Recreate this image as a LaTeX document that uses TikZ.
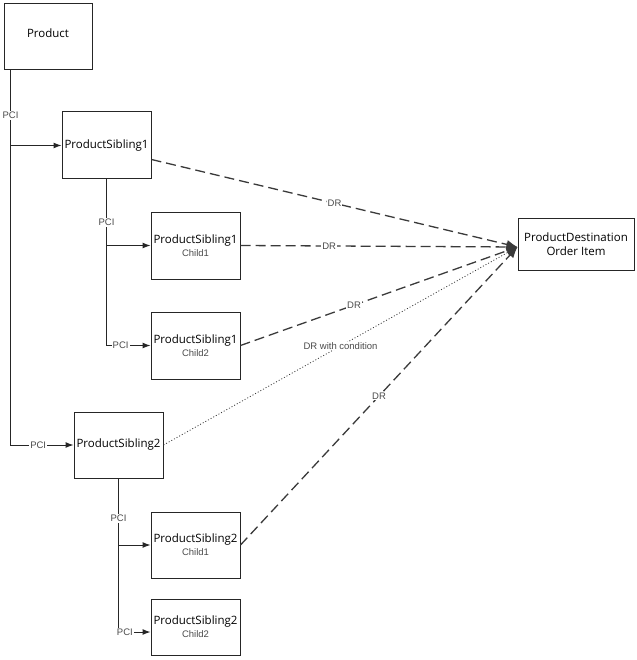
\documentclass[tikz,border=0pt]{standalone}
\usepackage{fontspec}
\setmainfont{Open Sans}
\newfontfamily\labelfont{Liberation Sans}
\usetikzlibrary{arrows.meta}
\definecolor{LinkGray}{HTML}{3A3A3A}
\definecolor{LabelGray}{HTML}{4A4A4A}
\tikzset{
  entity/.style={
    draw=black!85,
    line width=1pt,
    minimum width=89pt,
    minimum height=67pt,
    inner sep=0pt,
    align=center,
    font=\fontsize{11.5}{13}\selectfont
  },
  pci/.style={-{Latex[length=8pt,width=6pt]},draw=black!85,line width=1pt},
  dr/.style={-{Latex[length=11pt,width=9pt]},draw=LinkGray,line width=1.3pt,dash pattern=on 10pt off 5pt},
  drcond/.style={dr,line width=0.8pt,dash pattern=on 1pt off 2pt},
  linklabel/.style={
    fill=white,
    inner sep=1pt,
    text=LabelGray,
    font=\labelfont\fontsize{9.5}{11}\selectfont
  }
}
\newcommand{\childtext}[1]{\\{\labelfont\fontsize{9.5}{11}\selectfont\color{LabelGray}#1}}

\begin{document}
\begin{tikzpicture}[x=1pt,y=-1pt]
  \useasboundingbox (0,0) rectangle (636,660);

  \node[entity,minimum width=88pt,minimum height=66pt,text depth=8pt] (prod) at (48,37) {Product};
  \node[entity] (sib1) at (106.5,145.5) {ProductSibling1};
  \node[entity] (s1c1) at (195.5,245.5) {ProductSibling1\childtext{Child1}};
  \node[entity] (s1c2) at (195.5,345.5) {ProductSibling1\childtext{Child2}};
  \node[entity,minimum height=66pt] (sib2) at (118.5,445) {ProductSibling2};
  \node[entity,minimum height=66pt] (s2c1) at (195.5,545) {ProductSibling2\childtext{Child1}};
  \node[entity,minimum height=56pt] (s2c2) at (195.5,627) {ProductSibling2\childtext{Child2}};
  \node[entity,minimum width=116pt,minimum height=52pt,font=\fontsize{11.5}{14}\selectfont] (dest) at (576,244)
    {ProductDestination\\Order Item};

  % parent-child links
  \coordinate (trunk) at ([xshift=7pt]prod.south west);
  \draw[pci] (trunk) |- node[linklabel,pos=0.06]{PCI} node[linklabel,pos=0.72]{PCI} (sib2.west);
  \draw[pci] (trunk |- sib1.west) -- (sib1.west);
  \draw[pci] (sib1.south) |- node[linklabel,pos=0.13]{PCI} node[linklabel,pos=0.66]{PCI} (s1c2.west);
  \draw[pci] (sib1.south |- s1c1.west) -- (s1c1.west);
  \draw[pci] (sib2.south) |- node[linklabel,pos=0.13]{PCI} node[linklabel,pos=0.6]{PCI} ([yshift=-5pt]s2c2.west);
  \draw[pci] (sib2.south |- s2c1.west) -- (s2c1.west);

  % destination links
  \coordinate (hub) at ([yshift=-3pt]dest.west);
  \draw[dr] ([yshift=-14pt]sib1.east) -- node[linklabel,pos=0.5]{DR} (hub);
  \draw[dr] (s1c1.east) -- node[linklabel,pos=0.32]{DR} (hub);
  \draw[dr] (s1c2.east) -- node[linklabel,pos=0.41]{DR} (hub);
  \draw[drcond] (sib2.east) -- node[linklabel,pos=0.5]{DR with condition} (hub);
  \draw[dr] (s2c1.east) -- node[linklabel,pos=0.5]{DR} (hub);
\end{tikzpicture}
\end{document}
